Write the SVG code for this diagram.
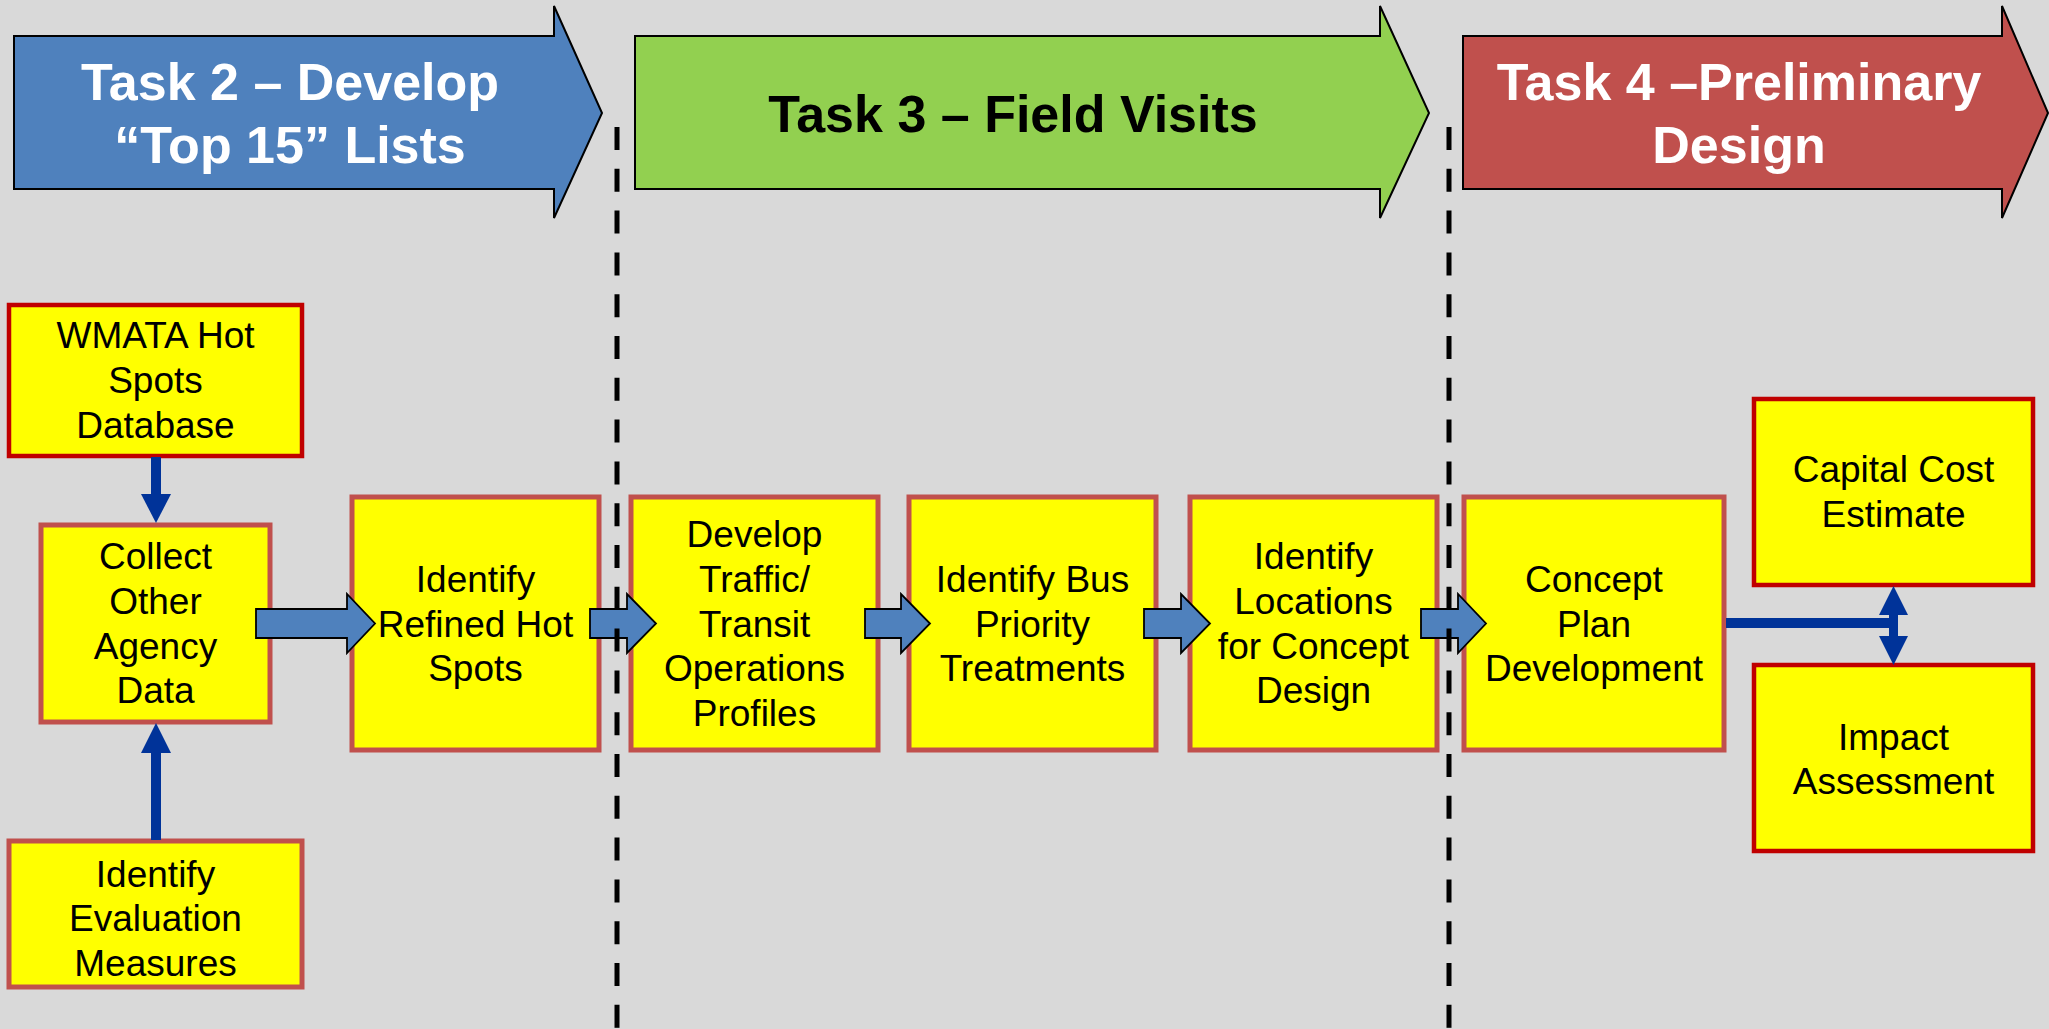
<svg xmlns="http://www.w3.org/2000/svg" width="2049" height="1029" viewBox="0 0 2049 1029">
<style>
.bg{fill:#D9D9D9}
.hdr{stroke:#000;stroke-width:2;stroke-linejoin:miter}
.htxt{font-family:"Liberation Sans",Arial,sans-serif;font-weight:bold;font-size:52px;text-anchor:middle}
.box{fill:#FFFF00;stroke:#C0504D;stroke-width:5}
.box2{fill:#FFFF00;stroke:#C00000;stroke-width:4.5}
.t{font-family:"Liberation Sans",Arial,sans-serif;font-size:37px;fill:#000;text-anchor:middle}
.blk{fill:#4F81BD;stroke:#000;stroke-width:1.8;stroke-linejoin:miter}
.ln{stroke:#003399;stroke-width:10;fill:none}
.hd{fill:#003399}
.dash{stroke:#000;stroke-width:5;stroke-dasharray:23 18.8;fill:none}
</style>
<rect class="bg" x="0" y="0" width="2049" height="1029"/>

<g id="task2">
<path class="hdr" fill="#4F81BD" d="M14,36 H554 V6 L602,113 L554,218 V189 H14 Z"/>
<text class="htxt" fill="#FFFFFF" x="290" y="100">Task 2 – Develop</text>
<text class="htxt" fill="#FFFFFF" x="290" y="163">“Top 15” Lists</text>
</g>
<g id="task3">
<path class="hdr" fill="#92D050" d="M635,36 H1380 V6 L1429,113 L1380,218 V189 H635 Z"/>
<text class="htxt" fill="#000000" x="1013" y="132">Task 3 – Field Visits</text>
</g>
<g id="task4">
<path class="hdr" fill="#C0504D" d="M1463,36 H2002 V6 L2048,113 L2002,218 V189 H1463 Z"/>
<text class="htxt" fill="#FFFFFF" x="1739" y="100">Task 4 –Preliminary</text>
<text class="htxt" fill="#FFFFFF" x="1739" y="163">Design</text>
</g>

<g id="wmata">
<rect class="box2" x="9" y="305" width="293" height="151"/>
<text class="t" x="155.5" y="348">WMATA Hot</text>
<text class="t" x="155.5" y="393">Spots</text>
<text class="t" x="155.5" y="438">Database</text>
</g>
<g id="collect">
<rect class="box" x="41" y="525" width="229" height="197"/>
<text class="t" x="155.5" y="569">Collect</text>
<text class="t" x="155.5" y="614">Other</text>
<text class="t" x="155.5" y="659">Agency</text>
<text class="t" x="155.5" y="703">Data</text>
</g>
<g id="evaluation">
<rect class="box" x="9" y="841" width="293" height="146"/>
<text class="t" x="155.5" y="887">Identify</text>
<text class="t" x="155.5" y="931">Evaluation</text>
<text class="t" x="155.5" y="976">Measures</text>
</g>
<g id="refined">
<rect class="box" x="352" y="497" width="247" height="253"/>
<text class="t" x="475.5" y="592">Identify</text>
<text class="t" x="475.5" y="637">Refined Hot</text>
<text class="t" x="475.5" y="681">Spots</text>
</g>
<g id="develop">
<rect class="box" x="631" y="497" width="247" height="253"/>
<text class="t" x="754.5" y="547">Develop</text>
<text class="t" x="754.5" y="592">Traffic/</text>
<text class="t" x="754.5" y="637">Transit</text>
<text class="t" x="754.5" y="681">Operations</text>
<text class="t" x="754.5" y="726">Profiles</text>
</g>
<g id="bus">
<rect class="box" x="909" y="497" width="247" height="253"/>
<text class="t" x="1032.5" y="592">Identify Bus</text>
<text class="t" x="1032.5" y="637">Priority</text>
<text class="t" x="1032.5" y="681">Treatments</text>
</g>
<g id="locations">
<rect class="box" x="1190" y="497" width="247" height="253"/>
<text class="t" x="1313.5" y="569">Identify</text>
<text class="t" x="1313.5" y="614">Locations</text>
<text class="t" x="1313.5" y="659">for Concept</text>
<text class="t" x="1313.5" y="703">Design</text>
</g>
<g id="concept">
<rect class="box" x="1464" y="497" width="260" height="253"/>
<text class="t" x="1594" y="592">Concept</text>
<text class="t" x="1594" y="637">Plan</text>
<text class="t" x="1594" y="681">Development</text>
</g>
<g id="capital">
<rect class="box2" x="1754" y="399" width="279" height="186"/>
<text class="t" x="1893.5" y="482">Capital Cost</text>
<text class="t" x="1893.5" y="527">Estimate</text>
</g>
<g id="impact">
<rect class="box2" x="1754" y="665" width="279" height="186"/>
<text class="t" x="1893.5" y="750">Impact</text>
<text class="t" x="1893.5" y="794">Assessment</text>
</g>

<g id="connectors">
<line class="ln" x1="156" y1="457" x2="156" y2="496"/>
<polygon class="hd" points="141,494 171,494 156,523"/>
<line class="ln" x1="156" y1="840" x2="156" y2="751"/>
<polygon class="hd" points="141,753 171,753 156,723"/>
<path class="blk" d="M256,609 H347 V594 L375,623.5 L347,653 V638 H256 Z"/>
<path class="blk" d="M590,609 H627 V594 L656,623.5 L627,653 V638 H590 Z"/>
<path class="blk" d="M865,609 H901 V594 L930,623.5 L901,653 V638 H865 Z"/>
<path class="blk" d="M1144,609 H1181 V594 L1210,623.5 L1181,653 V638 H1144 Z"/>
<path class="blk" d="M1421,609 H1458 V594 L1486,623.5 L1458,653 V638 H1421 Z"/>
<line class="ln" x1="1726" y1="623" x2="1898" y2="623"/>
<line class="ln" x1="1893.5" y1="612" x2="1893.5" y2="639" style="stroke-width:9"/>
<polygon class="hd" points="1879,615 1908,615 1893.5,586"/>
<polygon class="hd" points="1879,636 1908,636 1893.5,665"/>
</g>

<g id="dividers">
<line class="dash" x1="617" y1="127" x2="617" y2="1029"/>
<line class="dash" x1="1449" y1="127" x2="1449" y2="1029"/>
</g>
</svg>
